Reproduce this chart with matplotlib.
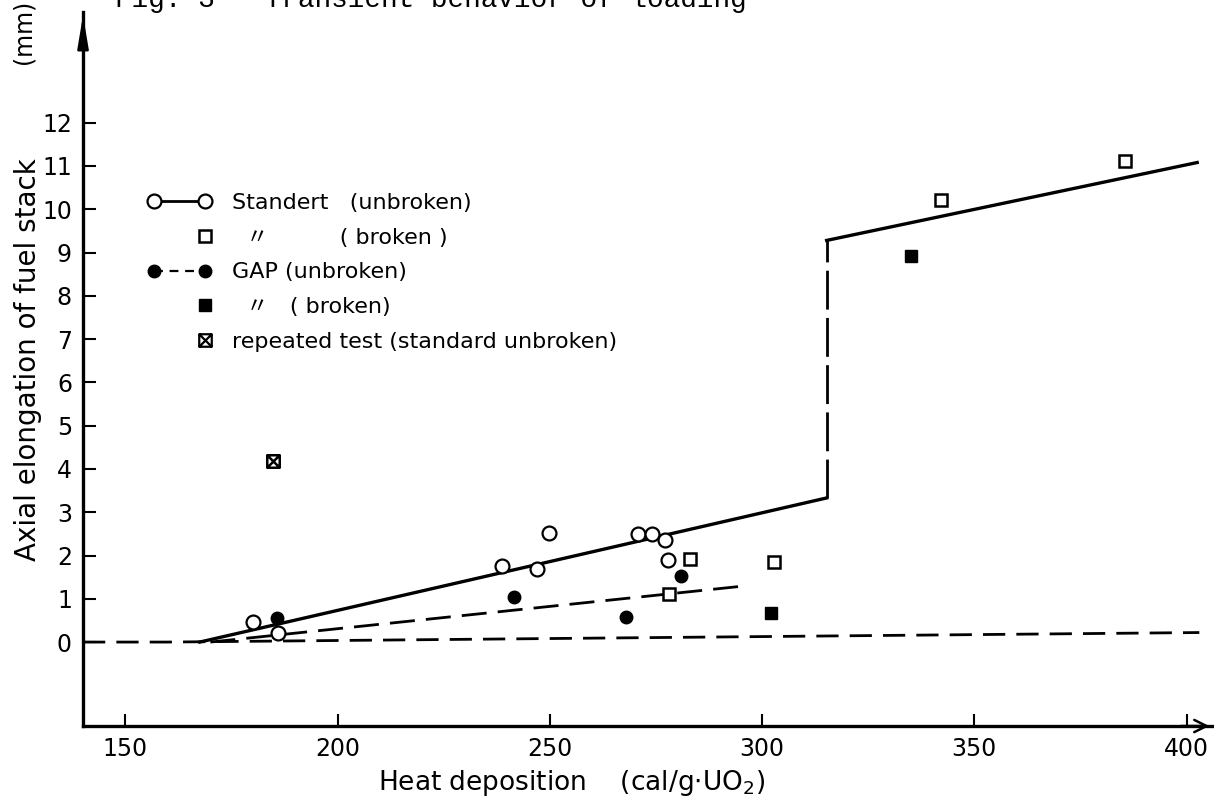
import numpy as np
import matplotlib
matplotlib.use('Agg')
import matplotlib.pyplot as plt
from matplotlib.path import Path
from matplotlib.lines import Line2D
from matplotlib.legend_handler import HandlerLine2D

plt.rcParams['font.family'] = ['DejaVu Sans', 'Noto Sans CJK JP']

# Data
# standard rods, unbroken (open circles)
std_x = [180, 186, 238.6, 246.9, 249.8, 270.7, 274, 277.1, 277.8]
std_y = [0.47, 0.2, 1.75, 1.69, 2.51, 2.49, 2.49, 2.36, 1.89]
# standard rods, broken (open squares)
std_broken_x = [278.1, 282.9, 302.7, 342.1, 385.6]
std_broken_y = [1.12, 1.93, 1.85, 10.21, 11.12]
# GAP rods, unbroken (filled circles)
gap_x = [185.7, 241.6, 268, 280.8]
gap_y = [0.56, 1.03, 0.58, 1.52]
# GAP rods, broken (filled squares)
gap_broken_x = [302.1, 335]
gap_broken_y = [0.68, 8.91]
# repeated test
repeat_x = [184.7]
repeat_y = [4.18]

# trend lines
std_line_x = [167.5, 315.2]
std_line_y = [0.0, 3.33]
step_x = [315.2, 315.2]
step_y = [3.33, 9.28]
upper_line_x = [315.2, 402.5]
upper_line_y = [9.28, 11.08]
gap_line_x = [170, 296.2]
gap_line_y = [0.0, 1.30]
base_x = [140, 160, 403]
base_y = [0.0, 0.0, 0.22]

x_ticks = [150, 200, 250, 300, 350, 400]
y_ticks = list(range(0, 13))

legend_labels = [
    'Standert   (unbroken)',
    '  \u3003          ( broken )',
    'GAP (unbroken)',
    '  \u3003   ( broken)',
    'repeated test (standard unbroken)',
]

# square with a cross inside
cross_sq = Path(
    [(-1, -1), (1, -1), (1, 1), (-1, 1), (-1, -1), (-1, -1), (1, 1), (-1, 1), (1, -1)],
    [Path.MOVETO, Path.LINETO, Path.LINETO, Path.LINETO, Path.CLOSEPOLY,
     Path.MOVETO, Path.LINETO, Path.MOVETO, Path.LINETO])


class HandlerRightMarker(HandlerLine2D):
    # single marker drawn at the right end of the legend handle
    def get_xdata(self, legend, xdescent, ydescent, width, height, fontsize):
        m = width - xdescent - self._marker_pad * fontsize
        xdata = np.array([m - 1, m + 1])
        return xdata, np.array([m])


fig = plt.figure(figsize=(12.14, 8.01), dpi=100)
ax = fig.add_axes([0.0684, 0.0936, 0.930, 0.891])

# lines
ax.plot(base_x, base_y, color='black', lw=2, ls=(0, (8, 4)))
ax.plot(std_line_x, std_line_y, color='black', lw=2.4)
ax.plot(step_x, step_y, color='black', lw=2, ls=(0, (14, 3)))
ax.plot(upper_line_x, upper_line_y, color='black', lw=2.4)
ax.plot(gap_line_x, gap_line_y, color='black', lw=2, ls=(0, (9, 4)))

# points
ax.plot(std_x, std_y, 'o', ms=10, mfc='white', mec='black', mew=1.6, zorder=5)
ax.plot(std_broken_x, std_broken_y, 's', ms=9, mfc='white', mec='black', mew=1.8, zorder=5)
ax.plot(gap_x, gap_y, 'o', ms=9, mfc='black', mec='black', zorder=5)
ax.plot(gap_broken_x, gap_broken_y, 's', ms=9, mfc='black', mec='black', zorder=5)
ax.plot(repeat_x, repeat_y, ls='none', marker=cross_sq, ms=9, mfc='white', mec='black', mew=1.8, zorder=5)

ax.set_xlim(140, 406)
ax.set_ylim(-1.94, 14.55)
ax.set_xticks(x_ticks)
ax.set_yticks(y_ticks)
ax.tick_params(direction='in', length=9, width=1.5, labelsize=17)
ax.tick_params(axis='x', pad=8)
ax.tick_params(axis='y', pad=8)

for s in ['top', 'right']:
    ax.spines[s].set_visible(False)
for s in ['left', 'bottom']:
    ax.spines[s].set_linewidth(2.4)

# axis arrows
ax.annotate('', xy=(1.0, 0), xycoords='axes fraction', xytext=(0.97, 0),
            arrowprops=dict(arrowstyle='->', lw=1.8, mutation_scale=22, color='black'))
ax.annotate('', xy=(0, 1.0), xycoords='axes fraction', xytext=(0, 0.95),
            arrowprops=dict(arrowstyle='-|>,head_width=0.15,head_length=0.9', lw=1.8,
                            mutation_scale=22, color='black'))

# legend
h1 = Line2D([], [], color='black', lw=2, marker='o', ms=10, mfc='white', mec='black', mew=1.6)
h2 = Line2D([], [], ls='none', marker='s', ms=9, mfc='white', mec='black', mew=1.8)
h3 = Line2D([], [], color='black', lw=1.6, ls=(0, (4, 3)), marker='o', ms=9, mfc='black', mec='black')
h4 = Line2D([], [], ls='none', marker='s', ms=9, mfc='black', mec='black')
h5 = Line2D([], [], ls='none', marker=cross_sq, ms=9, mfc='white', mec='black', mew=1.6)
single = HandlerRightMarker(numpoints=1)
ax.legend([h1, h2, h3, h4, h5], legend_labels, numpoints=2, frameon=False,
          fontsize=16, handlelength=2.9, handletextpad=0.9, labelspacing=0.66,
          borderpad=0, loc='upper left', bbox_to_anchor=(136 / 1214, 1 - 182 / 801),
          bbox_transform=fig.transFigure,
          handler_map={h2: single, h4: single, h5: single})

# axis labels
fig.text(0.5 * (373 + 770) / 1214, 1 - 783 / 801, 'Heat deposition    (cal/g$\\cdot$UO$_2$)',
         fontsize=19, ha='center', va='center')
fig.text(28 / 1214, 1 - 360 / 801, 'Axial elongation of fuel stack',
         fontsize=20, rotation=90, ha='center', va='center')
fig.text(24 / 1214, 1 - 32 / 801, '(mm)', fontsize=17, rotation=90, ha='center', va='center')

# scanned caption cut at the top edge
fig.text(115 / 1214, 1.0, 'Fig. 3   Transient behavior of loading', family='Liberation Mono',
         fontsize=20, ha='left', va='center')

fig.savefig('out.png', dpi=100)
